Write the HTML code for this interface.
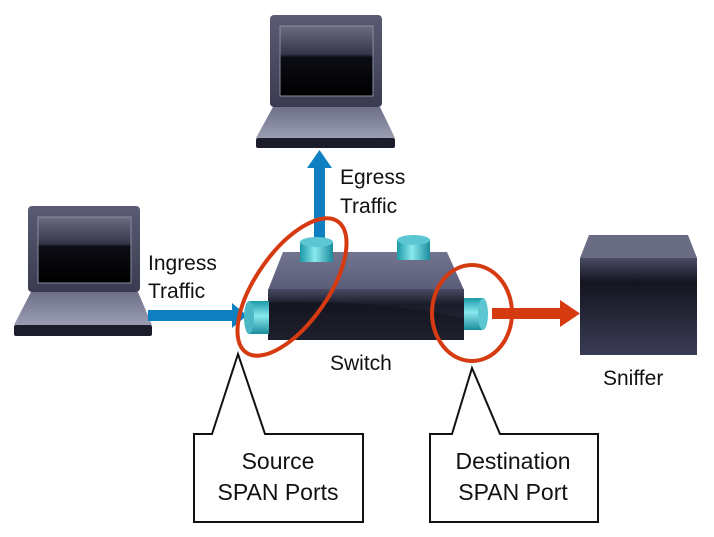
<!DOCTYPE html>
<html><head><meta charset="utf-8"><style>
html,body{margin:0;padding:0;background:#fff}
svg{display:block}
text{font-family:"Liberation Sans",Arial,sans-serif;fill:#111}
</style></head><body>
<svg width="714" height="537" viewBox="0 0 714 537" xmlns="http://www.w3.org/2000/svg">
<defs>
<linearGradient id="scr" x1="0" y1="0" x2="0" y2="1">
<stop offset="0" stop-color="#6a6c80"/><stop offset="0.4" stop-color="#35364a"/><stop offset="0.45" stop-color="#0c0c14"/><stop offset="1" stop-color="#000"/>
</linearGradient>
<linearGradient id="lid" x1="0" y1="0" x2="0" y2="1">
<stop offset="0" stop-color="#5a5c74"/><stop offset="1" stop-color="#3a3b50"/>
</linearGradient>
<linearGradient id="base" x1="0" y1="0" x2="0" y2="1">
<stop offset="0" stop-color="#6e7088"/><stop offset="1" stop-color="#9a9cb2"/>
</linearGradient>
<linearGradient id="front" x1="0" y1="0" x2="0" y2="1">
<stop offset="0" stop-color="#4a4c64"/><stop offset="0.3" stop-color="#1a1b28"/><stop offset="1" stop-color="#2e3044"/>
</linearGradient>
<linearGradient id="top" x1="0" y1="0" x2="0" y2="1">
<stop offset="0" stop-color="#727490"/><stop offset="1" stop-color="#5a5c78"/>
</linearGradient>
<linearGradient id="cyl" x1="0" y1="0" x2="1" y2="0">
<stop offset="0" stop-color="#1a9aa8"/><stop offset="0.45" stop-color="#8ae8ee"/><stop offset="1" stop-color="#1a8c9c"/>
</linearGradient>
<linearGradient id="cylv" x1="0" y1="0" x2="0" y2="1">
<stop offset="0" stop-color="#1a9aa8"/><stop offset="0.45" stop-color="#8ae8ee"/><stop offset="1" stop-color="#1a8c9c"/>
</linearGradient>
<linearGradient id="snf" x1="0" y1="0" x2="0" y2="1">
<stop offset="0" stop-color="#4a4c64"/><stop offset="0.25" stop-color="#14151f"/><stop offset="1" stop-color="#3a3c56"/>
</linearGradient>
</defs>

<!-- top laptop -->
<g>
<rect x="270" y="15" width="112" height="92" rx="4" fill="url(#lid)"/>
<rect x="280" y="26" width="93" height="70" fill="url(#scr)" stroke="#8a8ca0" stroke-width="1"/>
<polygon points="273,107 380,107 395,138 256,138" fill="url(#base)"/>
<rect x="256" y="138" width="139" height="10" rx="2" fill="#1c1d2a"/>
</g>
<!-- left laptop -->
<g>
<rect x="28" y="206" width="112" height="86" rx="4" fill="url(#lid)"/>
<rect x="38" y="217" width="93" height="66" fill="url(#scr)" stroke="#8a8ca0" stroke-width="1"/>
<polygon points="31,292 138,292 152,325 14,325" fill="url(#base)"/>
<rect x="14" y="325" width="138" height="11" rx="2" fill="#1c1d2a"/>
</g>

<!-- blue arrows -->
<rect x="148" y="310" width="88" height="11" fill="#0e7fc0"/>
<polygon points="232,303 247,315.5 232,328" fill="#0e7fc0"/>
<rect x="314" y="165" width="11" height="78" fill="#0e7fc0"/>
<polygon points="307,168 319.5,150 332,168" fill="#0e7fc0"/>

<!-- switch -->
<polygon points="283,252 447,252 464,290 268,290" fill="url(#top)"/>
<rect x="268" y="289" width="196" height="51" fill="url(#front)"/>
<path d="M268,302 Q380,300 464,318 L464,340 L268,340Z" fill="#101018" opacity="0.5"/>
<!-- ports -->
<rect x="300" y="242" width="33" height="20" fill="url(#cyl)"/>
<ellipse cx="316.5" cy="242" rx="16.5" ry="5" fill="#5cc6d2"/>
<rect x="397" y="240" width="33" height="20" fill="url(#cyl)"/>
<ellipse cx="413.5" cy="240" rx="16.5" ry="5" fill="#5cc6d2"/>
<rect x="249" y="301" width="20" height="33" fill="url(#cylv)"/>
<ellipse cx="249" cy="317.5" rx="5" ry="16.5" fill="#4cb8c6"/>
<rect x="464" y="298" width="19" height="32" fill="url(#cylv)"/>
<ellipse cx="483" cy="314" rx="5" ry="16" fill="#5cc6d2"/>

<!-- red arrow -->
<rect x="492" y="308" width="72" height="11" fill="#d63a10"/>
<polygon points="560,300 580,313.5 560,327" fill="#d63a10"/>

<!-- sniffer -->
<polygon points="589,235 688,235 697,258 580,258" fill="#6a6c84"/>
<rect x="580" y="258" width="117" height="97" fill="url(#snf)"/>

<!-- red ellipses -->
<ellipse cx="292" cy="287" rx="80" ry="36" transform="rotate(-55 292 287)" fill="none" stroke="#d63a10" stroke-width="4"/>
<ellipse cx="472" cy="313" rx="40" ry="48" fill="none" stroke="#d63a10" stroke-width="4"/>

<!-- labels -->
<text x="340" y="184" font-size="21">Egress</text>
<text x="340" y="213" font-size="21">Traffic</text>
<text x="148" y="270" font-size="21">Ingress</text>
<text x="148" y="298" font-size="21">Traffic</text>
<text x="330" y="370" font-size="21">Switch</text>
<text x="603" y="385" font-size="21">Sniffer</text>

<!-- callouts -->
<path d="M212,434 L238,354 L265,434 L363,434 L363,522 L194,522 L194,434 Z" fill="#fff" stroke="#111" stroke-width="2"/>
<text x="278" y="469" font-size="23" text-anchor="middle">Source</text>
<text x="278" y="500" font-size="23" text-anchor="middle">SPAN Ports</text>
<path d="M452,434 L472,368 L500,434 L598,434 L598,522 L430,522 L430,434 Z" fill="#fff" stroke="#111" stroke-width="2"/>
<text x="513" y="469" font-size="23" text-anchor="middle">Destination</text>
<text x="513" y="500" font-size="23" text-anchor="middle">SPAN Port</text>
</svg>
</body></html>
